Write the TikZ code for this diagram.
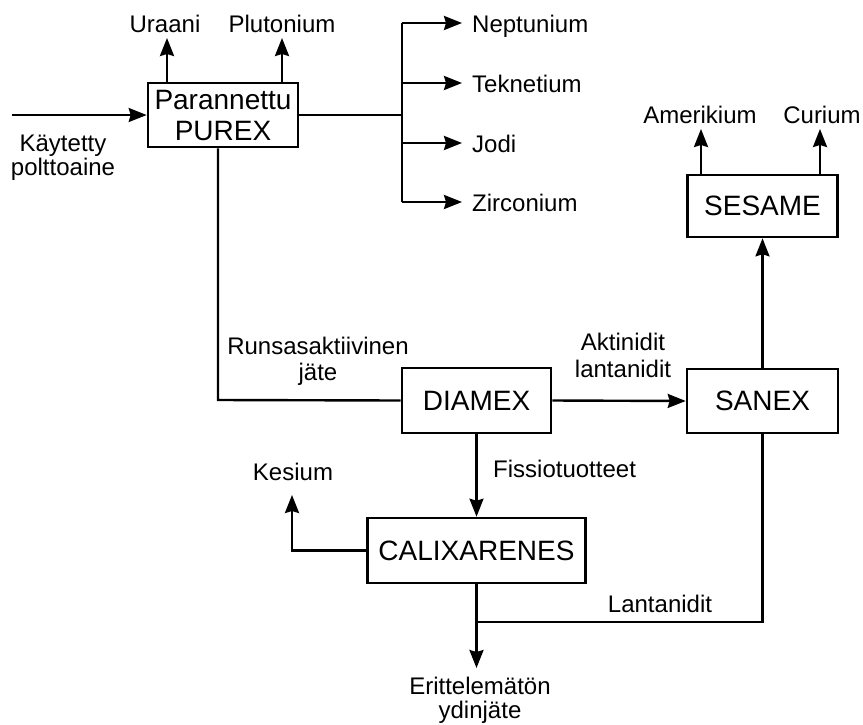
\documentclass[tikz,border=0pt]{standalone}
\usepackage{fontspec}
\setmainfont{Liberation Sans}
\usetikzlibrary{arrows.meta}
\begin{document}
\begin{tikzpicture}[x=1pt,y=-1pt,
  box/.style={draw, line width=2.6pt, inner sep=0pt, align=center, font=\fontsize{28}{31}\selectfont},
  lbl/.style={inner sep=0pt, align=center, font=\fontsize{24}{26}\selectfont},
  flow/.style={line width=2.4pt},
  arr/.style={flow, -{Stealth[length=18pt,width=14pt,inset=2pt]}},
]
\useasboundingbox (0,0) rectangle (863,724);

% boxes
\node[box, minimum width=150pt, minimum height=64pt] (purex) at (223,115) {Parannettu\\PUREX};
\node[box, minimum width=149pt, minimum height=65pt] (diamex) at (476.5,400.5) {DIAMEX};
\node[box, minimum width=151pt, minimum height=64pt] (sanex) at (762.5,401) {SANEX};
\node[box, minimum width=150pt, minimum height=62pt] (sesame) at (762.5,206) {SESAME};
\node[box, minimum width=218pt, minimum height=65pt] (calix) at (476.5,550.5) {CALIXARENES};

% labels
\node[lbl, anchor=north, font=\fontsize{24}{22}\selectfont] (feedlbl) at (63,135) {Käytetty\\polttoaine};
\node[lbl, anchor=base] (uraani) at (165,32) {Uraani};
\node[lbl, anchor=base] (pluto) at (282,32) {Plutonium};
\node[lbl, anchor=base west] (nep) at (472,32) {Neptunium};
\node[lbl, anchor=base west] (tek) at (472,92) {Teknetium};
\node[lbl, anchor=base west] (jodi) at (472,152) {Jodi};
\node[lbl, anchor=base west] (zirc) at (472,211) {Zirconium};
\node[lbl, anchor=base] (amer) at (700,123) {Amerikium};
\node[lbl, anchor=base] (curium) at (822,123) {Curium};
\node[lbl, anchor=north] (runsas) at (318,337) {Runsasaktiivinen\\jäte};
\node[lbl, anchor=north, font=\fontsize{24}{27}\selectfont] (aktin) at (623,333) {Aktinidit\\lantanidit};
\node[lbl, anchor=base west] (fiss) at (493,477) {Fissiotuotteet};
\node[lbl, anchor=base] (kesium) at (293,480) {Kesium};
\node[lbl, anchor=base] (lantan) at (660,612) {Lantanidit};
\node[lbl, anchor=north, font=\fontsize{24}{24}\selectfont] (waste) at (480,677) {Erittelemätön\\ydinjäte};

% coordinates
\coordinate (feed) at (12,115);
\coordinate (uA) at (167,38);
\coordinate (pA) at (282,38);
\coordinate (bus) at (402,115);
\coordinate (busT) at (402,23);
\coordinate (busB) at (402,202);
\coordinate (n1) at (462,23);
\coordinate (n2) at (462,83);
\coordinate (n3) at (462,143);
\coordinate (n4) at (462,202);
\coordinate (rA) at (218,400);
\coordinate (aA) at (701,129);
\coordinate (cA) at (820,129);
\coordinate (kA) at (292,495);
\coordinate (join) at (476.5,622);
\coordinate (outA) at (476.5,668);

% connectors
\draw[arr] (feed) -- (purex.west);
\draw[arr] (uA |- purex.north) -- (uA);
\draw[arr] (pA |- purex.north) -- (pA);
\draw[flow] (purex.east) -- (bus);
\draw[flow] (busT) -- (busB);
\draw[arr] (n1 -| bus) -- (n1);
\draw[arr] (n2 -| bus) -- (n2);
\draw[arr] (n3 -| bus) -- (n3);
\draw[arr] (n4 -| bus) -- (n4);
\draw[flow] (rA |- purex.south) -- (rA) -- (diamex.west);
\draw[arr] (diamex.east) -- (sanex.west);
\draw[arr] (sanex.north) -- (sesame.south);
\draw[arr] (aA |- sesame.north) -- (aA);
\draw[arr] (cA |- sesame.north) -- (cA);
\draw[arr] (diamex.south) -- (calix.north);
\draw[arr] (calix.west) -| (kA);
\draw[flow] (sanex.south) |- (join);
\draw[arr] (calix.south) -- (outA);
\end{tikzpicture}
\end{document}
